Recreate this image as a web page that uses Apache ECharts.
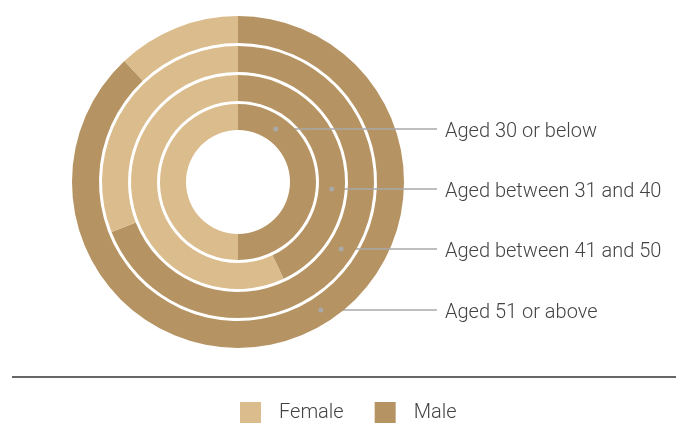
<!DOCTYPE html>
<html>
<head>
<meta charset="utf-8">
<script src="https://cdn.jsdelivr.net/npm/echarts@6/dist/echarts.min.js"></script>
<style>
html, body { margin: 0; padding: 0; background: #fff; }
#main { width: 676px; height: 423px; }
</style>
</head>
<body>
<div id="main"></div>
<script>
var ageGroups = ['Aged 30 or below', 'Aged between 31 and 40', 'Aged between 41 and 50', 'Aged 51 or above'];
var female = [50, 57, 31, 12];
var male = [50, 43, 69, 88];
var legendNames = ['Female', 'Male'];

var FEMALE_COLOR = '#dbbc8c';
var MALE_COLOR = '#b59362';
var TEXT_COLOR = '#444';
var FONT = 'Roboto, "Noto Sans", sans-serif';

var cx = 238, cy = 182;
// ring radii, inner to outer
var rings = [[52, 78], [81, 107], [110, 136], [139, 166]];
// label rows, offset from centre
var rowOffsets = [-53, 7, 67, 128];
var textX = 445, lineEndX = 437;

var chart = echarts.init(document.getElementById('main'));

function dotX(i){
	var rMid = (rings[i][0] + rings[i][1]) / 2;
	var dy = rowOffsets[i];
	return cx + Math.sqrt(rMid * rMid - dy * dy);
}

var series = [];
var graphics = [];
ageGroups.forEach(function(name, i){
	var y = cy + rowOffsets[i];
	series.push({
		type : 'pie',
		name : name,
		center : [cx, cy],
		radius : rings[i],
		startAngle : 90,
		clockwise : true,
		silent : true,
		animation : false,
		z : 10 - i,	//inner rings on top so their leader lines cross the outer ones
		label : { show : false },
		labelLine : { show : false },
		data : [
			{
				name : 'Male',
				value : male[i],
				itemStyle : { color : MALE_COLOR },
				label : {
					show : true,
					position : 'outside',
					formatter : name,
					color : TEXT_COLOR,
					fontSize : 20,
					fontWeight : 300,
					fontFamily : FONT
				},
				labelLine : {
					show : true,
					lineStyle : { color : '#a9a9a9', width : 1.5 }
				}
			},
			{
				name : 'Female',
				value : female[i],
				itemStyle : { color : FEMALE_COLOR }
			}
		],
		labelLayout : function(){
			return {
				x : textX,
				y : y + 3,
				align : 'left',
				verticalAlign : 'middle',
				labelLinePoints : [[dotX(i), y], [lineEndX, y], [lineEndX, y]]
			};
		}
	});
	//leader dot
	graphics.push({
		type : 'circle',
		shape : { cx : dotX(i), cy : y, r : 2.5 },
		style : { fill : '#a9a9a9' },
		z : 100
	});
});

//separator above the legend
graphics.push({
	type : 'line',
	shape : { x1 : 12, y1 : 377, x2 : 676, y2 : 377 },
	style : { stroke : '#666', lineWidth : 2 }
});

chart.setOption({
	animation : false,
	legend : {
		data : legendNames,
		top : 402,
		left : 240,
		padding : 0,
		itemWidth : 21,
		itemHeight : 21,
		itemGap : 31,
		icon : 'rect',
		selectedMode : false,
		textStyle : {
			color : TEXT_COLOR,
			fontSize : 20,
			fontWeight : 300,
			fontFamily : FONT,
			padding : [0, 0, 0, 13]
		}
	},
	graphic : graphics,
	series : series
});
</script>
</body>
</html>
